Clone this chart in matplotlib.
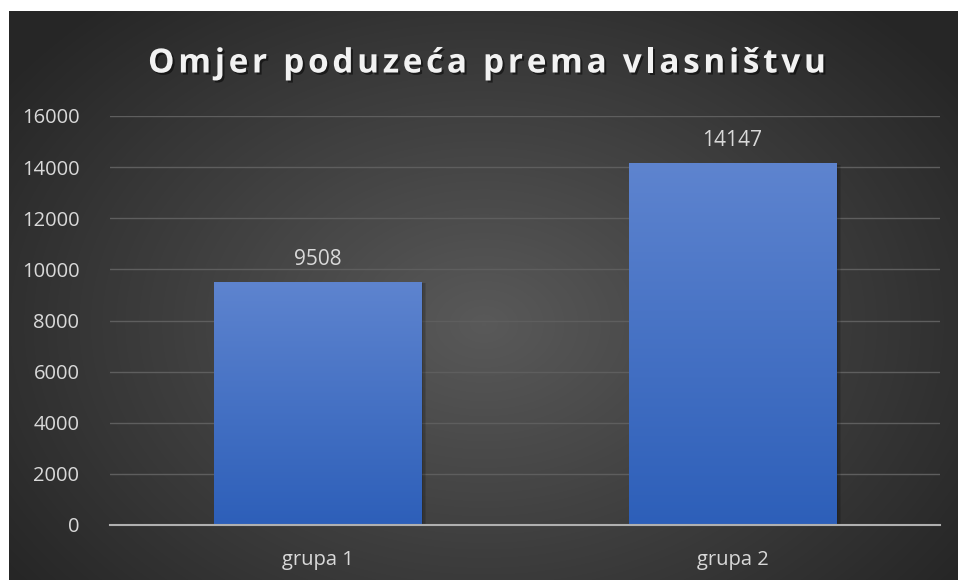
import numpy as np
import matplotlib
matplotlib.use('Agg')
import matplotlib.pyplot as plt
import matplotlib.patheffects as pe
from matplotlib.colors import LinearSegmentedColormap
from matplotlib.font_manager import FontProperties

categories = ['grupa 1', 'grupa 2']
values = [9508, 14147]
y_ticks = [0, 2000, 4000, 6000, 8000, 10000, 12000, 14000, 16000]
title = 'Omjer poduzeća prema vlasništvu'

plt.rcParams['font.family'] = ['Open Sans', 'DejaVu Sans']

fig = plt.figure(figsize=(9.58, 5.8), dpi=100)
fig.patch.set_facecolor('white')

# dark radial background panel
bg = fig.add_axes([9 / 958, 0, 949 / 958, 569 / 580], zorder=0)
h, w = 569, 949
yy, xx = np.mgrid[0:h, 0:w]
r = np.sqrt(((xx - w * 0.5) / (w * 0.62)) ** 2 + ((yy - h * 0.55) / (h * 0.75)) ** 2)
r = np.clip(r, 0, 1)
bg_cmap = LinearSegmentedColormap.from_list('bg', ['#595959', '#262626'])
bg.imshow(r, cmap=bg_cmap, aspect='auto', vmin=0, vmax=1)
bg.set_axis_off()

ax = fig.add_axes([110 / 958, 1 - 525 / 580, 830 / 958, (525 - 116) / 580], zorder=1)
ax.patch.set_alpha(0)

x = np.arange(len(categories))
bar_cmap = LinearSegmentedColormap.from_list('bar', ['#2d5fb9', '#5e84cf'])
grad = np.linspace(0, 1, 256).reshape(-1, 1)
for xi, v in zip(x, values):
    # soft shadow
    for k, off in enumerate([0.004, 0.008, 0.012]):
        ax.bar(xi + off, v + 40, width=0.5, bottom=-100, color='black', alpha=0.1, zorder=2)
    b = ax.bar(xi, v, width=0.5, color='#4472c4', zorder=3)[0]
    im = ax.imshow(grad, cmap=bar_cmap, aspect='auto', origin='lower',
                   extent=[xi - 0.25, xi + 0.25, 0, v], zorder=4)
    im.set_clip_path(b)
    ax.text(xi, v + 480, str(v), ha='center', va='bottom', color='#d9d9d9', fontsize=15)

ax.set_xlim(-0.5, 1.5)
ax.set_ylim(0, 16000)
ax.set_yticks(y_ticks)
ax.set_yticklabels([str(t) for t in y_ticks])
ax.set_xticks(x)
ax.set_xticklabels(categories)
ax.tick_params(axis='both', length=0, colors='#d9d9d9', labelsize=14.5)
ax.tick_params(axis='y', pad=22)
ax.tick_params(axis='x', pad=18)
ax.grid(axis='y', color='#5e5e5e', linewidth=1)
ax.set_axisbelow(True)
for s in ['top', 'right', 'left']:
    ax.spines[s].set_visible(False)
ax.spines['bottom'].set_color('#b0b0b0')
ax.spines['bottom'].set_linewidth(1.5)
ax.spines['bottom'].set_zorder(5)

# letter-spaced title, drawn char by char
fp = FontProperties(family='Open Sans', weight='bold', size=24)
renderer = fig.canvas.get_renderer()
widths = []
for ch in title:
    if ch == ' ':
        widths.append(fp.get_size_in_points() * 0.26 * fig.dpi / 72)
    else:
        widths.append(renderer.get_text_width_height_descent(ch, fp, ismath=False)[0])
left_px, right_px = 148, 826
gap = (right_px - left_px - sum(widths)) / (len(title) - 1)
cur = left_px
for ch, cw in zip(title, widths):
    if ch != ' ':
        fig.text(cur / 958, 1 - 60 / 580, ch, ha='left', va='center_baseline', fontproperties=fp,
                 color='#f2f2f2', zorder=3,
                 path_effects=[pe.withSimplePatchShadow(offset=(1.5, -1.5), shadow_rgbFace='black', alpha=0.5)])
    cur += cw + gap

fig.savefig('out.png', dpi=100)
